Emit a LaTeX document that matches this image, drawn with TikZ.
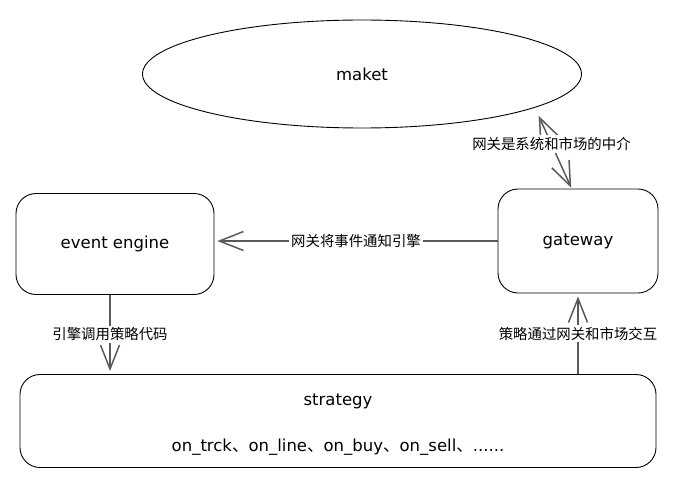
\documentclass[tikz,border=0pt]{standalone}
\usepackage{fontspec}
\setmainfont{DejaVu Sans}
\newfontfamily\cjk{Noto Sans CJK SC}
\usetikzlibrary{arrows.meta,positioning,shapes.geometric}

\begin{document}
\begin{tikzpicture}[x=1pt,y=-1pt,>={Straight Barb[length=24pt,width=19pt]},node distance=46pt,
  box/.style={draw,rounded corners=20pt,line width=0.9pt,inner sep=0pt},
  flow/.style={->,draw=black!65,line width=1.5pt,shorten >=3pt},
  lbl/.style={fill=white,text=black,font=\cjk\fontsize{14.4}{17}\selectfont,inner sep=2pt},
  word/.style={font=\fontsize{16.5}{19}\selectfont}]

  \useasboundingbox (0,0) rectangle (676,492);

  \node[ellipse,draw,line width=0.9pt,minimum width=439pt,minimum height=108pt,word] (maket) at (362,74) {maket};
  \node[box,minimum width=198pt,minimum height=101pt,word] (engine) at (115,244) {event engine};
  \node[box,minimum width=160pt,minimum height=104pt,word] (gateway) at (578,241) {gateway};
  \node[box,minimum width=636pt,minimum height=93pt] (strategy) at (338,421) {};
  \node[word] (name) at (338,401) {strategy};
  \node[word] (hooks) [below of=name] {on\_trck{\cjk 、}on\_line{\cjk 、}on\_buy{\cjk 、}on\_sell{\cjk 、}......};

  \path
  (gateway.west) edge[flow] node[lbl] {网关将事件通知引擎} (gateway.west -| engine.east)
  ([xshift=-5pt]engine.south) edge[flow] node[lbl] {引擎调用策略代码} ([xshift=-5pt]engine.south |- strategy.north)
  (strategy.north -| gateway.south) edge[flow] node[lbl] {策略通过网关和市场交互} (gateway.south)
  (gateway.97) edge[flow,<->,shorten <=1pt,shorten >=9pt] node[lbl,pos=0.55] {网关是系统和市场的中介} (maket.-11)
  ;
\end{tikzpicture}
\end{document}
